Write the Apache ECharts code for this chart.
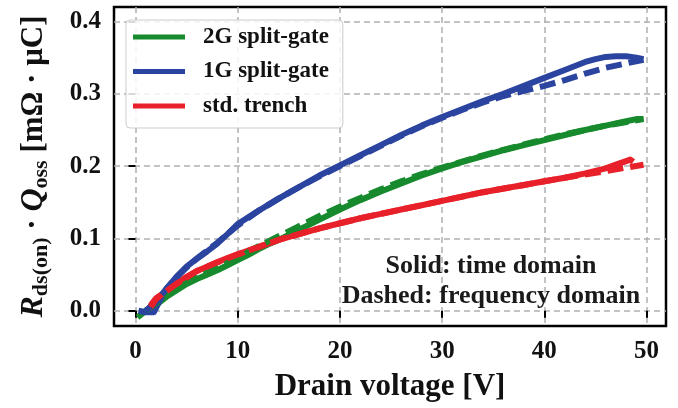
<!DOCTYPE html>
<html>
<head>
<meta charset="utf-8">
<script src="https://cdn.jsdelivr.net/npm/echarts@6/dist/echarts.min.js"></script>
<style>
  html, body { margin: 0; padding: 0; background: #ffffff; }
  #chart { width: 678px; height: 408px; }
</style>
</head>
<body>
<div id="chart"></div>
<script>
  // values
  // 2G split-gate
  var v2gTime = [0.2, 1, 2, 3, 4, 5, 6, 7, 8, 9, 10, 11, 12, 13, 14, 16, 18, 20, 22, 24, 26, 28, 30, 32, 34, 36, 38, 40, 42, 44, 46, 48, 49, 49.7];
  var q2gTime = [-0.009, 0.0, 0.008, 0.019, 0.028, 0.037, 0.044, 0.050, 0.056, 0.063, 0.070, 0.077, 0.085, 0.092, 0.098, 0.112, 0.126, 0.140, 0.153, 0.165, 0.176, 0.187, 0.197, 0.206, 0.214, 0.222, 0.229, 0.236, 0.243, 0.250, 0.256, 0.262, 0.265, 0.265];
  var v2gFreq = [1, 2, 3, 4, 6, 8, 10, 12, 14, 16, 18, 20, 22, 24, 26, 28, 30, 34, 38, 42, 46, 49.7];
  var q2gFreq = [0.0, 0.010, 0.020, 0.030, 0.046, 0.059, 0.073, 0.089, 0.103, 0.117, 0.131, 0.144, 0.156, 0.168, 0.179, 0.189, 0.198, 0.215, 0.230, 0.244, 0.256, 0.265];

  // 1G split-gate
  var v1gTime = [0.3, 1.0, 1.8, 2.3, 3, 4, 5, 6, 7, 8, 9, 10, 11, 12, 14, 16, 18, 20, 22, 24, 26, 28, 30, 32, 34, 36, 38, 40, 42, 44, 45, 46, 47, 48, 49, 49.7];
  var q1gTime = [0.0, -0.002, -0.002, 0.012, 0.030, 0.047, 0.061, 0.072, 0.082, 0.093, 0.106, 0.120, 0.129, 0.138, 0.155, 0.171, 0.187, 0.201, 0.215, 0.229, 0.243, 0.256, 0.268, 0.279, 0.290, 0.300, 0.311, 0.322, 0.333, 0.344, 0.348, 0.351, 0.352, 0.352, 0.350, 0.348];
  var v1gFreq = [1, 2, 3, 4, 5, 6, 8, 10, 12, 14, 16, 18, 20, 22, 24, 26, 28, 30, 32, 34, 36, 38, 40, 42, 44, 46, 48, 49.7];
  var q1gFreq = [0.0, 0.012, 0.030, 0.046, 0.060, 0.072, 0.094, 0.118, 0.138, 0.155, 0.171, 0.186, 0.200, 0.214, 0.228, 0.242, 0.255, 0.267, 0.278, 0.288, 0.297, 0.304, 0.311, 0.319, 0.328, 0.336, 0.342, 0.347];

  // std. trench
  var vStdTime = [1.3, 1.6, 2, 3, 4, 5, 6, 7, 8, 9, 10, 12, 14, 16, 18, 20, 22, 24, 26, 28, 30, 32, 34, 36, 38, 40, 42, 44, 46, 47, 48, 48.4, 48.7];
  var qStdTime = [0.002, 0.010, 0.017, 0.027, 0.037, 0.047, 0.055, 0.061, 0.067, 0.073, 0.078, 0.088, 0.098, 0.106, 0.114, 0.121, 0.128, 0.134, 0.140, 0.146, 0.152, 0.158, 0.164, 0.169, 0.174, 0.179, 0.184, 0.190, 0.197, 0.202, 0.207, 0.209, 0.206];
  var vStdFreq = [1.5, 2, 3, 4, 6, 8, 10, 14, 18, 22, 26, 30, 34, 38, 42, 46, 48, 49.7];
  var qStdFreq = [0.005, 0.016, 0.027, 0.037, 0.055, 0.067, 0.078, 0.098, 0.114, 0.128, 0.140, 0.152, 0.164, 0.174, 0.184, 0.193, 0.198, 0.202];

  var xTicks = [0, 10, 20, 30, 40, 50];
  var yTicks = [0.0, 0.1, 0.2, 0.3, 0.4];

  var names = ['2G split-gate', '1G split-gate', 'std. trench'];
  var colors = ['#168a2c', '#2a449f', '#e8202a'];

  var serif = '"Liberation Serif", "DejaVu Serif", serif';

  function zip(xs, ys) {
    var out = [];
    for (var i = 0; i < xs.length; i++) {
      out.push([xs[i], ys[i]]);
    }
    return out;
  }

  function makeLine(name, color, data, dashed, z) {
    return {
      name: name,
      type: 'line',
      data: data,
      showSymbol: false,
      symbol: 'none',
      z: z,
      color: color,
      lineStyle: {
        color: color,
        width: 6,
        type: dashed ? [16, 7] : 'solid',
        cap: 'butt',
        join: 'round'
      },
      emphasis: { disabled: true }
    };
  }

  var series = [
    makeLine(names[0], colors[0], zip(v2gTime, q2gTime), false, 2),
    makeLine(names[1], colors[1], zip(v1gTime, q1gTime), false, 2),
    makeLine(names[2], colors[2], zip(vStdTime, qStdTime), false, 2),
    makeLine(names[0] + ' (freq)', colors[0], zip(v2gFreq, q2gFreq), true, 3),
    makeLine(names[1] + ' (freq)', colors[1], zip(v1gFreq, q1gFreq), true, 3),
    makeLine(names[2] + ' (freq)', colors[2], zip(vStdFreq, qStdFreq), true, 3)
  ];

  var myChart = echarts.init(document.getElementById('chart'), null, { renderer: 'canvas' });

  myChart.setOption({
    animation: false,
    backgroundColor: '#ffffff',
    grid: {
      left: 114,
      right: 12,
      top: 7,
      bottom: 82,
      show: true,
      borderColor: '#000000',
      borderWidth: 2.5,
      backgroundColor: 'transparent'
    },
    legend: {
      data: names,
      orient: 'vertical',
      left: 126,
      top: 20,
      width: 217,
      padding: [5, 14, 10, 7],
      itemGap: 10.5,
      itemWidth: 52,
      itemHeight: 5,
      icon: 'rect',
      selectedMode: false,
      backgroundColor: 'rgba(255,255,255,0.85)',
      borderColor: '#cccccc',
      borderWidth: 1,
      borderRadius: 4,
      textStyle: {
        fontFamily: serif,
        fontWeight: 'bold',
        fontSize: 23,
        lineHeight: 24,
        color: '#111111',
        padding: [0, 0, 0, 13]
      }
    },
    xAxis: {
      type: 'value',
      min: -2.1,
      max: 51.9,
      name: 'Drain voltage [V]',
      nameLocation: 'middle',
      nameGap: 45,
      nameTextStyle: {
        fontFamily: serif,
        fontWeight: 'bold',
        fontSize: 31,
        color: '#111111'
      },
      axisLine: { show: false },
      axisTick: {
        show: true,
        customValues: xTicks,
        length: 7,
        lineStyle: { color: '#000000', width: 2 }
      },
      axisLabel: {
        customValues: xTicks,
        margin: 13,
        fontFamily: serif,
        fontWeight: 'bold',
        fontSize: 25,
        color: '#111111'
      },
      splitLine: {
        show: true,
        lineStyle: { color: '#b0b0b0', width: 1.5, type: [6, 4] }
      }
    },
    yAxis: {
      type: 'value',
      min: -0.021,
      max: 0.42,
      name: '{i|R}{s|ds(on)}{b| · }{i|Q}{s|oss}{b| [mΩ · μC]}',
      nameLocation: 'middle',
      nameRotate: 90,
      nameGap: 62,
      nameTextStyle: {
        fontFamily: serif,
        fontWeight: 'bold',
        fontSize: 31,
        color: '#111111',
        rich: {
          i: { fontFamily: serif, fontWeight: 'bold', fontStyle: 'italic', fontSize: 32, lineHeight: 36, color: '#111111' },
          b: { fontFamily: serif, fontWeight: 'bold', fontSize: 31, lineHeight: 36, color: '#111111' },
          s: { fontFamily: serif, fontWeight: 'bold', fontSize: 22, lineHeight: 12, verticalAlign: 'bottom', color: '#111111' }
        }
      },
      axisLine: { show: false },
      axisTick: {
        show: true,
        customValues: yTicks,
        length: 7,
        lineStyle: { color: '#000000', width: 2 }
      },
      axisLabel: {
        customValues: yTicks,
        margin: 13,
        fontFamily: serif,
        fontWeight: 'bold',
        fontSize: 25,
        color: '#111111',
        formatter: function (v) { return v.toFixed(1); }
      },
      splitLine: {
        show: true,
        lineStyle: { color: '#b0b0b0', width: 1.5, type: [6, 4] }
      }
    },
    graphic: [
      {
        type: 'text',
        x: 491,
        y: 266,
        z: 10,
        style: {
          text: 'Solid: time domain',
          fill: '#1a1a1a',
          font: 'bold 26px "Liberation Serif", serif',
          align: 'center',
          verticalAlign: 'middle'
        }
      },
      {
        type: 'text',
        x: 491,
        y: 296,
        z: 10,
        style: {
          text: 'Dashed: frequency domain',
          fill: '#1a1a1a',
          font: 'bold 26px "Liberation Serif", serif',
          align: 'center',
          verticalAlign: 'middle'
        }
      }
    ],
    series: series
  });
</script>
</body>
</html>
